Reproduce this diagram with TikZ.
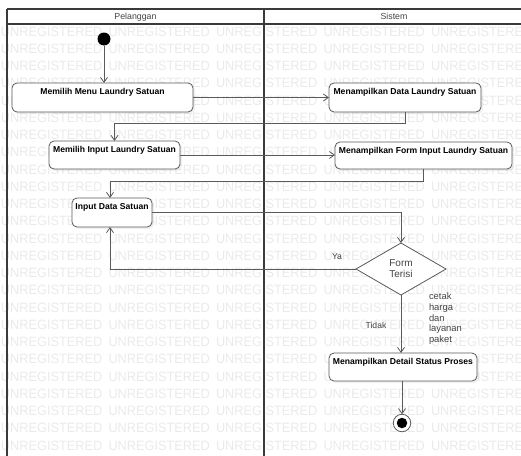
\documentclass[tikz,border=0pt]{standalone}
\usepackage{fontspec}
\setmainfont{Liberation Sans}
\usetikzlibrary{arrows.meta,shapes.geometric,shadows}

\definecolor{linegray}{HTML}{5A5A5A}
\definecolor{framegray}{HTML}{3A3A3A}
\definecolor{textgray}{HTML}{444444}
\definecolor{wmgray}{HTML}{EAEAEA}

\begin{document}
\begin{tikzpicture}[x=1pt,y=-1pt,
  every node/.style={inner sep=0pt, outer sep=0pt},
  wm/.style={font=\fontsize{13.5}{14}\selectfont, text=wmgray, anchor=west},
  lane/.style={draw=framegray, line width=1.8pt},
  lanetitle/.style={font=\fontsize{8.8}{10}\selectfont, text=textgray, anchor=base},
  actbox/.style={draw=linegray, line width=0.8pt, fill=white, rounded corners=5pt,
    drop shadow={shadow xshift=2pt, shadow yshift=-2pt, opacity=0.12}},
  acttext/.style={font=\fontsize{8.6}{10}\selectfont\bfseries, text=black,
    anchor=north, inner sep=0pt, yshift=-5.5pt},
  decision/.style={diamond, draw=linegray, line width=0.8pt, fill=white,
    minimum width=90pt, minimum height=52pt, align=center,
    font=\fontsize{10}{11}\selectfont, text=textgray},
  note/.style={font=\fontsize{8.6}{10}\selectfont, text=textgray},
  flow/.style={draw=linegray, line width=0.8pt, -{Straight Barb[length=5pt,width=7pt]}}
]
\useasboundingbox (0,0) rectangle (521,455);
\clip (0,0) rectangle (521,455);

% tiled background lettering
\foreach \r in {0,...,24}{
  \foreach \c in {0,...,4}{
    \node[wm] (wm-\r-\c) at ({1+107.5*\c},{31.5+17.25*\r}) {\scalebox{0.945}[1]{UNREGISTERED}};
  }
}

% swimlanes
\fill[white] (7,9) rectangle (530,24);
\draw[lane] (7,9) -- (530,9);
\draw[lane] (7,24) -- (530,24);
\draw[lane] (7,9) -- (7,465);
\draw[lane] (264,9) -- (264,465);
\node[lanetitle] (lane-p) at (135.5,19.5) {Pelanggan};
\node[lanetitle] (lane-s) at (394,19.5) {Sistem};

% start and end
\node[circle, fill=black, minimum size=13pt] (start) at (104,39) {};
\node[circle, draw=linegray, line width=0.8pt, fill=white, minimum size=17.5pt] (end) at (402,423) {};
\node[circle, fill=black, minimum size=10.5pt] (end-dot) at (end) {};

% activities
\node[actbox, minimum width=181pt, minimum height=29pt,
  label={[acttext]north:Memilih Menu Laundry Satuan}] (m1) at (102.5,97.5) {};
\node[actbox, minimum width=152pt, minimum height=29pt,
  label={[acttext]north:Menampilkan Data Laundry Satuan}] (s1) at (405,97.5) {};
\node[actbox, minimum width=131pt, minimum height=28pt,
  label={[acttext]north:Memilih Input Laundry Satuan}] (m2) at (114.5,155) {};
\node[actbox, minimum width=177pt, minimum height=27pt,
  label={[acttext]north:Menampilkan Form Input Laundry Satuan}] (s2) at (423.5,155.5) {};
\node[actbox, minimum width=80pt, minimum height=29pt,
  label={[acttext]north:Input Data Satuan}] (m3) at (112,212.5) {};
\node[decision] (d) at (401,269) {Form\\Terisi};
\node[actbox, minimum width=148pt, minimum height=28pt,
  label={[acttext]north:Menampilkan Detail Status Proses}] (s3) at (403,367) {};

% flows
\draw[flow] (start) -- (start |- m1.north);
\draw[flow] (m1.east) -- (s1.west);
\draw[flow] (s1.south) -- ++(0,11) -| (m2.north);
\draw[flow] (m2.east) -- (m2.east -| s2.west);
\draw[flow] (s2.south) -- ++(0,12) -| ([xshift=-2pt]m3.north);
\draw[flow] (m3.east) -| (d.north);
\draw[flow] (d.west) -| ([xshift=-2pt]m3.south);
\draw[flow] (d.south) -- (d.south |- s3.north);
\draw[flow] (end |- s3.south) -- (end.north);

% guard labels
\node[note] (ya) at (337,257) {Ya};
\node[note] (tidak) at (376,325) {Tidak};
\node[note, anchor=north west, align=left, font=\fontsize{9.4}{10.6}\selectfont] (cetak) at (429,293) {cetak\\harga\\dan\\layanan\\paket};
\end{tikzpicture}
\end{document}
